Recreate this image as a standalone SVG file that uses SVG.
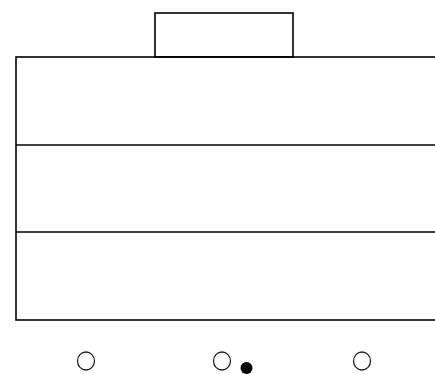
<svg xmlns="http://www.w3.org/2000/svg" width="435" height="374" viewBox="0 0 435 374">
<style>
.ln{fill:none;stroke:#000;stroke-width:1.6}
.o{fill:none;stroke:#222;stroke-width:1.3}
</style>
<rect width="435" height="374" fill="#fff"/>
<g id="top-box"><rect class="ln" x="155" y="13" width="138" height="44"/></g>
<g id="main-box">
<rect class="ln" x="16" y="57" width="430" height="263"/>
<line class="ln" x1="16" y1="145" x2="435" y2="145"/>
<line class="ln" x1="16" y1="232" x2="435" y2="232"/>
</g>
<g id="c1"><ellipse class="o" cx="86" cy="361" rx="8.5" ry="9"/></g>
<g id="c2"><ellipse class="o" cx="222" cy="361" rx="8.5" ry="9"/></g>
<g id="dot"><circle cx="246.5" cy="368" r="6" fill="#000"/></g>
<g id="c3"><ellipse class="o" cx="362" cy="361" rx="8.5" ry="9"/></g>
</svg>
